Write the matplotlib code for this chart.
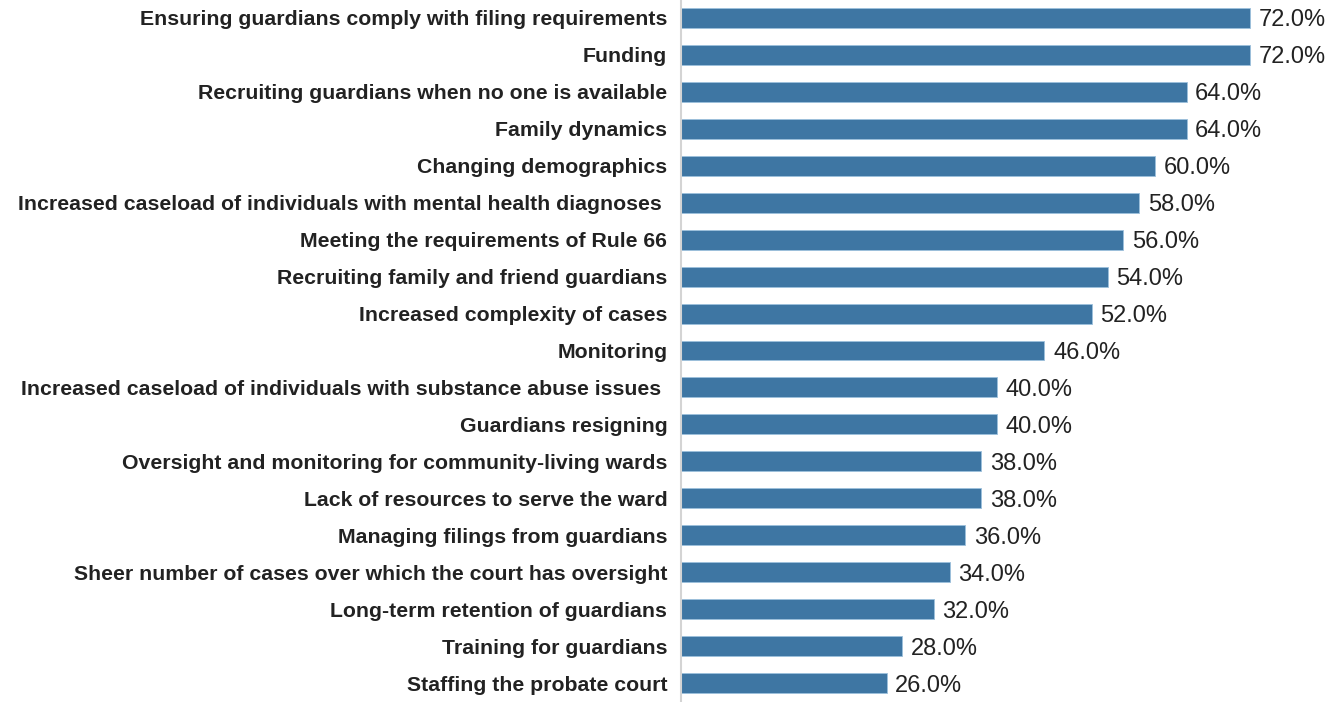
import matplotlib
matplotlib.use('Agg')
import matplotlib.pyplot as plt

categories = [
    'Ensuring guardians comply with filing requirements',
    'Funding',
    'Recruiting guardians when no one is available',
    'Family dynamics',
    'Changing demographics',
    'Increased caseload of individuals with mental health diagnoses ',
    'Meeting the requirements of Rule 66',
    'Recruiting family and friend guardians',
    'Increased complexity of cases',
    'Monitoring',
    'Increased caseload of individuals with substance abuse issues ',
    'Guardians resigning',
    'Oversight and monitoring for community-living wards',
    'Lack of resources to serve the ward',
    'Managing filings from guardians',
    'Sheer number of cases over which the court has oversight',
    'Long-term retention of guardians',
    'Training for guardians',
    'Staffing the probate court',
]
values = [72.0, 72.0, 64.0, 64.0, 60.0, 58.0, 56.0, 54.0, 52.0, 46.0,
          40.0, 40.0, 38.0, 38.0, 36.0, 34.0, 32.0, 28.0, 26.0]

# no narrow font available, so fall back to Liberation Sans at a smaller size
plt.rcParams['font.family'] = ['Liberation Sans Narrow', 'Liberation Sans', 'DejaVu Sans']

fig = plt.figure(figsize=(13.41, 7.02), dpi=100)
ax = fig.add_axes([0.508, 0.0, 0.471, 1.0])

pos = list(range(len(categories)))
ax.barh(pos, values, height=0.54, color='#3e76a3', edgecolor='#9cc0dc', linewidth=0.6)
ax.set_xlim(0, 80)
ax.set_ylim(18.514, -0.486)

ax.set_yticks(pos)
ax.set_yticklabels(categories, fontsize=15.3, fontweight='bold', color='#222222')
ax.tick_params(axis='y', length=0, pad=10)
ax.set_xticks([])

for s in ['top', 'right', 'bottom']:
    ax.spines[s].set_visible(False)
ax.spines['left'].set_color('#d4d4d4')
ax.spines['left'].set_linewidth(1.5)

for p, v in zip(pos, values):
    ax.text(v + 1.1, p, f'{v:.1f}%', va='center_baseline', ha='left', fontsize=17, color='#222222')

fig.savefig('out.png', dpi=100)
